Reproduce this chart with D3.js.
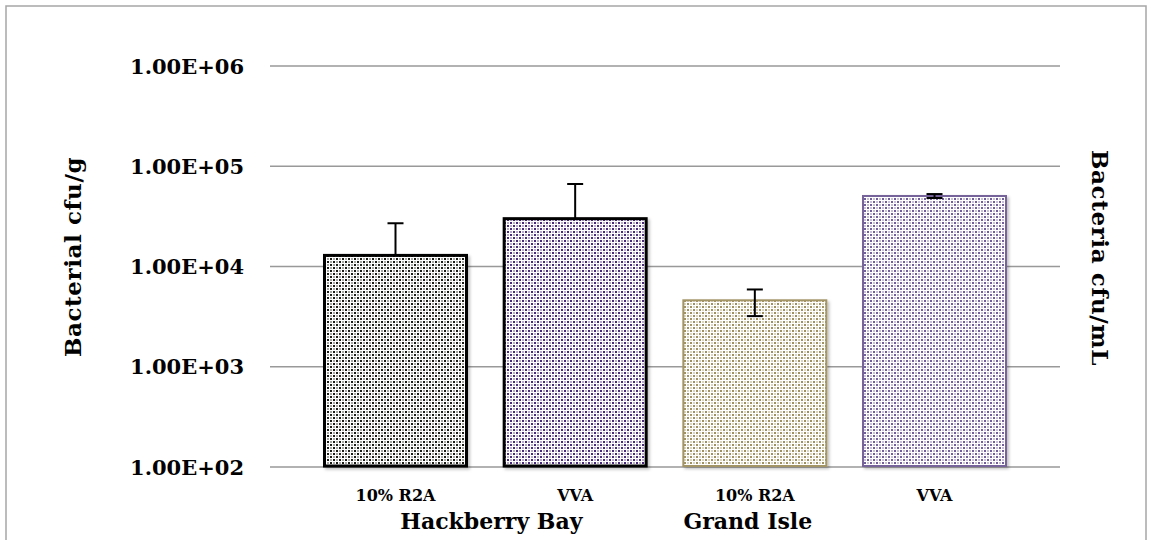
<!DOCTYPE html>
<html>
<head>
<meta charset="utf-8">
<script src="https://cdn.jsdelivr.net/npm/d3@7"></script>
<style>
  html, body { margin: 0; padding: 0; background: #fff; }
  svg { display: block; }
</style>
</head>
<body>
<div id="chart"></div>
<script>
// Data
const media = ['10% R2A', 'VVA', '10% R2A', 'VVA'];
const sites = ['Hackberry Bay', 'Hackberry Bay', 'Grand Isle', 'Grand Isle'];
const means = [12900, 30000, 4600, 50500];
const errPlus = [14100, 36500, 1300, 2300];
const errMinus = [0, 0, 1400, 2300];
const yTicks = [1e2, 1e3, 1e4, 1e5, 1e6];
const groupNames = ['Hackberry Bay', 'Grand Isle'];

const width = 1152, height = 540;
const font = '"DejaVu Serif", "Liberation Serif", serif';

const svg = d3.select('#chart')
    .append('svg')
    .attr('width', width)
    .attr('height', height)
    .style('font-family', font);

const defs = svg.append('defs');

// Excel-like dotted pattern fills
const fills = [
    { id: 'p0', fg: '#1e1e16', stroke: '#000000', sw: 3 },
    { id: 'p1', fg: '#4a2a78', stroke: '#000000', sw: 3 },
    { id: 'p2', fg: '#a09164', stroke: '#a39566', sw: 2 },
    { id: 'p3', fg: '#725f99', stroke: '#76649a', sw: 2 }
];

fills.forEach(f => {
    const p = defs.append('pattern')
        .attr('id', f.id)
        .attr('patternUnits', 'userSpaceOnUse')
        .attr('width', 6)
        .attr('height', 6);
    p.append('rect').attr('width', 6).attr('height', 6).attr('fill', '#fff');
    [[0, 0], [3, 3]].forEach(([x, y]) => {
        p.append('rect').attr('x', x).attr('y', y).attr('width', 2).attr('height', 2).attr('fill', f.fg);
    });
    [[3, 0], [0, 3]].forEach(([x, y]) => {
        p.append('rect').attr('x', x).attr('y', y).attr('width', 2).attr('height', 2)
            .attr('fill', f.fg).attr('fill-opacity', 0.4);
    });
});

defs.append('filter')
    .attr('id', 'shadow')
    .attr('x', '-5%').attr('y', '-5%').attr('width', '115%').attr('height', '115%')
    .append('feDropShadow')
    .attr('dx', 2).attr('dy', 2).attr('stdDeviation', 1.5)
    .attr('flood-color', '#000').attr('flood-opacity', 0.25);

// Outer chart frame
svg.append('rect')
    .attr('x', 6).attr('y', 6)
    .attr('width', 1140).attr('height', 560)
    .attr('fill', 'none')
    .attr('stroke', '#a6a6a6')
    .attr('stroke-width', 1.5);

const plotLeft = 270, plotRight = 1060, plotTop = 66, plotBottom = 467;

const x = d3.scaleBand()
    .domain(d3.range(means.length))
    .range([plotLeft, plotRight])
    .paddingInner(0.193)
    .paddingOuter(0.295);

const y = d3.scaleLog()
    .domain([1e2, 1e6])
    .range([plotBottom, plotTop]);

const fmt = v => {
    const [m, e] = v.toExponential(2).toUpperCase().split('E');
    return `${m}E${e[0]}${e.slice(1).padStart(2, '0')}`;
};

// rows used for bars and error bars
const rows = means.map((v, i) => ({
    i, v, lo: v - errMinus[i], hi: v + errPlus[i], hasLo: errMinus[i] > 0
}));

// Gridlines
svg.append('g')
    .selectAll('line')
    .data(yTicks)
    .enter()
    .append('line')
    .attr('x1', plotLeft)
    .attr('x2', plotRight)
    .attr('y1', d => y(d))
    .attr('y2', d => y(d))
    .attr('stroke', '#999')
    .attr('stroke-width', 1.5);

// Y tick labels
svg.append('g')
    .selectAll('text')
    .data(yTicks)
    .enter()
    .append('text')
    .attr('x', 244)
    .attr('y', d => y(d))
    .attr('dy', '0.36em')
    .attr('text-anchor', 'end')
    .style('font-size', '21px')
    .style('font-weight', 'bold')
    .text(fmt);

const cx = i => x(i) + x.bandwidth() / 2;

// Bars
svg.append('g')
    .selectAll('rect')
    .data(rows)
    .enter()
    .append('rect')
    .attr('x', d => x(d.i) + fills[d.i].sw / 2)
    .attr('width', d => x.bandwidth() - fills[d.i].sw)
    .attr('y', d => y(d.v))
    .attr('height', d => plotBottom - y(d.v) - 1)
    .attr('fill', d => `url(#${fills[d.i].id})`)
    .attr('stroke', d => fills[d.i].stroke)
    .attr('stroke-width', d => fills[d.i].sw)
    .attr('filter', 'url(#shadow)');

// Error bars
const capHalf = 8;
const eb = svg.append('g')
    .attr('stroke', '#000')
    .attr('stroke-width', 2)
    .selectAll('g')
    .data(rows)
    .enter()
    .append('g');

eb.append('line')
    .attr('x1', d => cx(d.i)).attr('x2', d => cx(d.i))
    .attr('y1', d => y(d.hasLo ? d.lo : d.v))
    .attr('y2', d => y(d.hi));

eb.append('line')
    .attr('x1', d => cx(d.i) - capHalf).attr('x2', d => cx(d.i) + capHalf)
    .attr('y1', d => y(d.hi))
    .attr('y2', d => y(d.hi));

eb.filter(d => d.hasLo)
    .append('line')
    .attr('x1', d => cx(d.i) - capHalf).attr('x2', d => cx(d.i) + capHalf)
    .attr('y1', d => y(d.lo))
    .attr('y2', d => y(d.lo));

// Category labels
svg.append('g')
    .selectAll('text')
    .data(media)
    .enter()
    .append('text')
    .attr('x', (d, i) => cx(i))
    .attr('y', 501)
    .attr('text-anchor', 'middle')
    .style('font-size', '16px')
    .style('font-weight', 'bold')
    .text(d => d);

// Group labels
const groupX = [(cx(0) + cx(1)) / 2 + 6, cx(2) - 7];
svg.append('g')
    .selectAll('text')
    .data(groupNames)
    .enter()
    .append('text')
    .attr('x', (d, i) => groupX[i])
    .attr('y', 529)
    .attr('text-anchor', 'middle')
    .style('font-size', '22px')
    .style('font-weight', 'bold')
    .text(d => d);

// Axis titles
svg.append('text')
    .attr('transform', 'translate(81, 257) rotate(-90)')
    .attr('text-anchor', 'middle')
    .style('font-size', '23px')
    .style('font-weight', 'bold')
    .style('letter-spacing', '0.6px')
    .text('Bacterial cfu/g');

svg.append('text')
    .attr('transform', 'translate(1092, 258) rotate(90)')
    .attr('text-anchor', 'middle')
    .style('font-size', '23px')
    .style('font-weight', 'bold')
    .style('letter-spacing', '0.6px')
    .text('Bacteria cfu/mL');
</script>
</body>
</html>
